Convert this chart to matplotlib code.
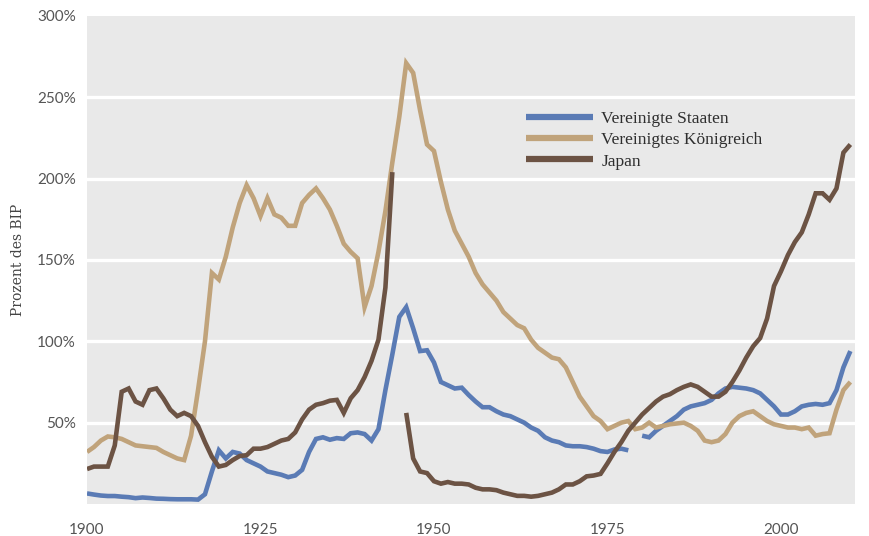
import numpy as np
import matplotlib
matplotlib.use("Agg")
import matplotlib.pyplot as plt

years = list(range(1900, 2011))

usa = [6.5, 5.8, 5.2, 4.9, 4.9, 4.5, 4.2, 3.6, 4.0, 3.7,
       3.3, 3.2, 3.0, 2.9, 2.9, 2.9, 2.7, 6.0, 20.0, 33.0,
       28.0, 32.0, 31.0, 27.0, 25.0, 23.0, 20.0, 19.0, 18.0, 16.5,
       17.5, 21.0, 32.0, 40.0, 41.0, 39.5, 40.5, 40.0, 43.5, 44.0,
       43.0, 39.0, 46.0, 70.0, 92.0, 115.0, 121.0, 108.0, 94.0, 94.5,
       87.0, 75.0, 73.0, 71.0, 71.5, 67.0, 63.0, 59.5, 59.5, 57.0,
       55.0, 54.0, 52.0, 50.0, 47.0, 45.0, 41.0, 39.0, 38.0, 36.0,
       35.5, 35.5, 35.0, 34.0, 32.5, 32.0, 33.5, 34.0, 33.0, None,
       42.0, 41.0, 45.0, 48.0, 51.0, 54.0, 58.0, 60.0, 61.0, 62.0,
       64.0, 68.0, 71.0, 72.0, 71.5, 71.0, 70.0, 68.0, 64.0, 60.0,
       55.0, 55.0, 57.0, 60.0, 61.0, 61.5, 61.0, 62.0, 70.0, 84.0,
       94.0]

uk = [32.0, 35.0, 39.0, 41.5, 41.0, 40.0, 38.0, 36.0, 35.5, 35.0,
      34.5, 32.0, 30.0, 28.0, 27.0, 42.0, 70.0, 100.0, 142.0, 138.0,
      152.0, 170.0, 185.0, 196.0, 188.0, 177.0, 188.0, 178.0, 176.0, 171.0,
      171.0, 185.0, 190.0, 194.0, 188.0, 181.0, 171.0, 160.0, 155.0, 151.0,
      121.0, 134.0, 155.0, 180.0, 210.0, 238.0, 271.0, 265.0, 242.0, 221.0,
      217.0, 198.0, 181.0, 168.0, 160.0, 152.0, 142.0, 135.0, 130.0, 125.0,
      118.0, 114.0, 110.0, 108.0, 101.0, 96.0, 93.0, 90.0, 89.0, 84.0,
      75.0, 66.0, 60.0, 54.0, 51.0, 46.0, 48.0, 50.0, 51.0, 46.0,
      47.0, 50.0, 47.0, 48.0, 49.0, 49.5, 50.0, 48.0, 45.0, 39.0,
      38.0, 39.0, 43.0, 50.0, 54.0, 56.0, 57.0, 54.0, 51.0, 49.0,
      48.0, 47.0, 47.0, 46.0, 47.0, 42.0, 43.0, 43.5, 58.0, 70.0,
      75.0]

japan = [21.5, 23.0, 23.0, 23.0, 36.0, 69.0, 71.0, 63.0, 61.0, 70.0,
         71.0, 65.0, 58.0, 54.0, 56.0, 54.0, 48.0, 38.0, 29.0, 23.0,
         24.0, 27.0, 29.5, 30.0, 34.0, 34.0, 35.0, 37.0, 39.0, 40.0,
         44.0, 52.0, 58.0, 61.0, 62.0, 63.5, 64.0, 56.0, 65.0, 70.0,
         78.0, 88.0, 101.0, 133.0, 204.0, None, 56.0, 28.0, 20.0, 19.0,
         14.0, 12.5, 13.5, 12.5, 12.5, 12.0, 10.0, 9.0, 9.0, 8.5,
         7.0, 6.0, 5.0, 5.0, 4.5, 5.0, 6.0, 7.0, 9.0, 12.0,
         12.0, 14.0, 17.0, 17.5, 18.5, 25.0, 32.0, 38.0, 45.0, 50.0,
         55.0, 59.0, 63.0, 66.0, 67.5, 70.0, 72.0, 73.5, 72.0, 69.0,
         66.0, 66.0, 69.0, 75.0, 82.0, 90.0, 97.0, 102.0, 114.0, 134.0,
         143.0, 153.0, 161.0, 167.0, 178.0, 191.0, 191.0, 187.0, 194.0, 216.0,
         221.0]

series_labels = ["Vereinigte Staaten", "Vereinigtes Königreich", "Japan"]
colors = ["#5a7bb5", "#c0a37b", "#6c5344"]
xticks = [1900, 1925, 1950, 1975, 2000]
yticks = [50, 100, 150, 200, 250, 300]
ytick_labels = ["50%", "100%", "150%", "200%", "250%", "300%"]
ylabel = "Prozent des BIP"

def arr(v):
    return np.array([np.nan if x is None else x for x in v], dtype=float)

fig = plt.figure(figsize=(8.7, 5.36), dpi=100)
ax = fig.add_axes([0.1, 0.0597, 0.883, 0.9105])
ax.set_facecolor("#e9e9e9")

for yv in yticks[:-1]:
    ax.axhline(yv, color="white", lw=2.4, zorder=1)

for data, lab, c in zip([usa, uk, japan], series_labels, colors):
    ax.plot(years, arr(data), color=c, lw=3.3, label=lab, zorder=3,
            solid_joinstyle="miter", solid_capstyle="butt")

ax.set_xlim(1900, 2010.7)
ax.set_ylim(0, 300)
ax.set_xticks(xticks)
ax.set_yticks(yticks)
ax.set_yticklabels(ytick_labels)
for s in ax.spines.values():
    s.set_visible(False)
ax.tick_params(axis="both", length=0, labelsize=11, labelcolor="#555555")
ax.tick_params(axis="x", pad=14)
ax.tick_params(axis="y", pad=8)
for t in ax.get_xticklabels() + ax.get_yticklabels():
    t.set_fontfamily("Lato")

fig.text(0.021, 0.515, ylabel, rotation=90, va="center", ha="center",
         fontsize=10, color="#444444", family="DejaVu Serif")

leg = ax.legend(loc="upper left", bbox_to_anchor=(0.571, 0.806), frameon=False,
                handlelength=3.9, handletextpad=0.45, labelspacing=0.3,
                borderpad=0, borderaxespad=0,
                prop={"family": "Liberation Serif", "size": 12.5})
for t in leg.get_texts():
    t.set_color("#2e2e2e")
for h in leg.get_lines():
    h.set_linewidth(4.5)

fig.savefig("out.png", dpi=100, facecolor="white")
